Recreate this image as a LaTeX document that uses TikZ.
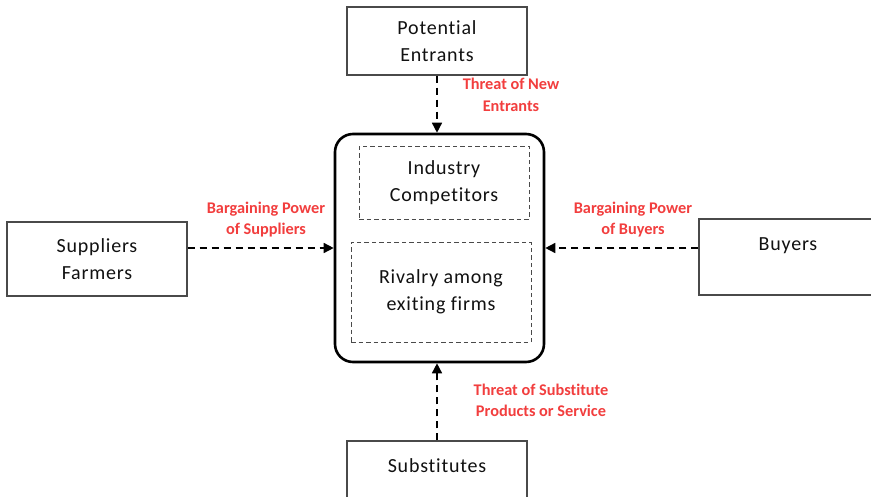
\documentclass[tikz,border=0pt]{standalone}
\usepackage{fontspec}
\setmainfont[Ligatures=NoCommon]{Carlito}
\usetikzlibrary{arrows.meta}
\definecolor{boxgray}{HTML}{4A4A4A}
\definecolor{txt}{HTML}{111111}
\definecolor{lblred}{HTML}{F23E3E}
\newfontfamily\boxfont[LetterSpace=4,Ligatures=NoCommon]{Carlito}
\tikzset{
  plainbox/.style={draw=boxgray, line width=1.3pt, rectangle, inner sep=0pt, align=center,
    font=\boxfont\fontsize{20}{27}\selectfont, text=txt},
  dashbox/.style={draw=boxgray, line width=1pt, dash pattern=on 4.5pt off 3pt, rectangle, inner sep=0pt,
    align=center, font=\boxfont\fontsize{20}{27}\selectfont, text=txt},
  mainbox/.style={draw=black, line width=2.6pt, rectangle, rounded corners=18pt, inner sep=0pt},
  boxtext/.style={align=center, font=\boxfont\fontsize{20}{27}\selectfont, text=txt, inner sep=0pt},
  lbl/.style={align=center, font=\bfseries\fontsize{16.3}{21.5}\selectfont, text=lblred, inner sep=0pt},
  arr/.style={draw=black, line width=1.5pt, dash pattern=on 7pt off 5pt,
    -{Triangle[length=10pt,width=10pt]}}
}
\begin{document}
\begin{tikzpicture}[x=1pt,y=-1pt]
\path[use as bounding box, clip] (0,0) rectangle (871,496);
\fill[white] (0,0) rectangle (871,496);
% main box
\node[mainbox, minimum width=209pt, minimum height=228pt] (main) at (439.5,248) {};
\node[dashbox, minimum width=170pt, minimum height=73pt] (ic) at (444,182.5) {Industry\\Competitors};
\node[dashbox, minimum width=180pt, minimum height=100pt] (rv) at (441,292) {Rivalry among\\exiting firms};
% outer boxes
\node[plainbox, minimum width=180pt, minimum height=68pt] (pe) at (437,41) {Potential\\Entrants};
\node[plainbox, minimum width=180pt, minimum height=74pt] (sup) at (97,259) {Suppliers\\Farmers};
\node[plainbox, minimum width=201pt, minimum height=76pt] (buy) at (799.5,257) {};
\node[boxtext] (buyt) at (788,246) {Buyers};
\node[plainbox, minimum width=180pt, minimum height=70pt] (sub) at (437,476) {};
\node[boxtext] (subt) at (437,466) {Substitutes};
% arrows
\draw[arr] (pe.south) -- (pe.south |- main.north);
\draw[arr] (sub.north) -- (sub.north |- main.south);
\coordinate (sa) at ([yshift=11pt]sup.east);
\draw[arr] (sa) -- (sa -| main.west);
\coordinate (ba) at ([yshift=9pt]buy.west);
\draw[arr] (ba) -- (ba -| main.east);
% labels
\node[lbl] (l1) at (511,95) {Threat of New\\Entrants};
\node[lbl] (l2) at (266,219.5) {Bargaining Power\\of Suppliers};
\node[lbl] (l3) at (633,219.5) {Bargaining Power\\of Buyers};
\node[lbl] (l4) at (541,400.5) {Threat of Substitute\\Products or Service};
\end{tikzpicture}
\end{document}
